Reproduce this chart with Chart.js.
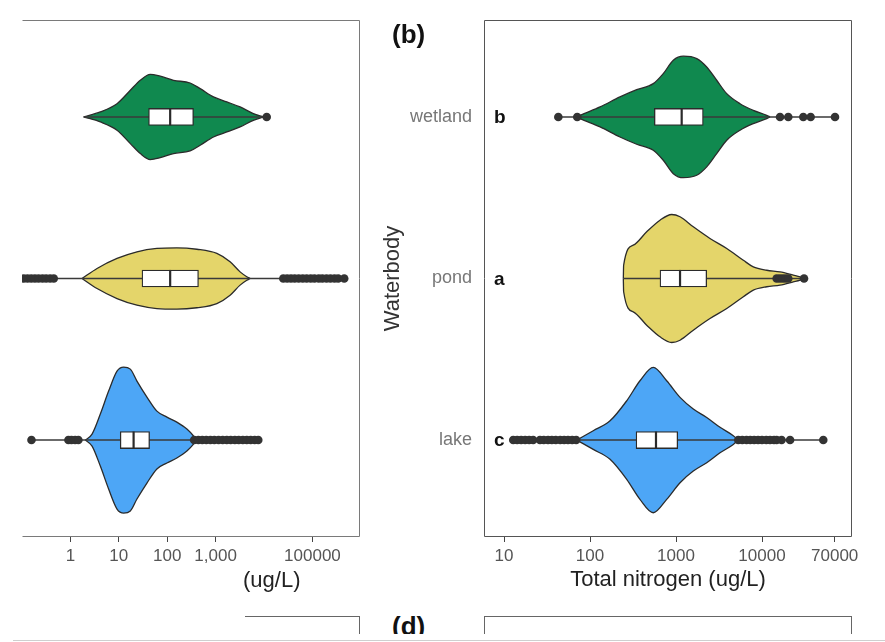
<!DOCTYPE html>
<html>
<head>
<meta charset="utf-8">
<script src="https://cdn.jsdelivr.net/npm/chart.js@4.4.1/dist/chart.umd.min.js"></script>
<style>
  body { margin: 0; background: #fff; font-family: "Liberation Sans", Arial, sans-serif; }
  #wrap { position: relative; width: 885px; height: 642px; overflow: hidden; background: #fff; }
  canvas { position: absolute; top: 0; }
  .tag { position: absolute; font-weight: bold; font-size: 26px; line-height: 26px; color: #111; }
  #tpTitle { position: absolute; left: 243px; top: 567px; font-size: 22px; line-height: 26px; color: #222; }
  .frame { position: absolute; top: 616px; height: 40px; border-top: 1px solid #666; }
  #frameC { left: 245px; width: 114px; border-right: 1px solid #666; }
  #frameD { left: 484px; width: 366px; border-left: 1px solid #666; border-right: 1px solid #666; }
  #cover { position: absolute; left: 0; top: 634px; width: 885px; height: 8px; background: #fff; }
  #rule { position: absolute; left: 13px; top: 640px; width: 872px; height: 1px; background: #cfcfcf; }
</style>
</head>
<body>
<div id="wrap">
  <canvas id="chartTP" width="370" height="600" style="left:0"></canvas>
  <canvas id="chartTN" width="515" height="600" style="left:370px"></canvas>
  <div class="tag" style="left:392px;top:21px">(b)</div>
  <div id="tpTitle">(ug/L)</div>
  <div class="frame" id="frameC"></div>
  <div class="frame" id="frameD"></div>
  <div class="tag" style="left:392px;top:613px">(d)</div>
  <div id="cover"></div>
  <div id="rule"></div>
</div>
<script>
// rows, bottom to top
const rows = ["lake", "pond", "wetland"];
const sigLetters = ["c", "a", "b"];
const fills = ["#4da6f6", "#e4d56a", "#10894f"];

// panel (a): total phosphorus, violin outline (value, half width)
const tpLakeX = [2.04, 2.8, 4.15, 6.16, 9.18, 12.6, 17.3, 23.7, 38.1, 61.2, 98.6, 158, 255, 349, 400];
const tpLakeW = [0, 0.037, 0.161, 0.303, 0.427, 0.452, 0.439, 0.365, 0.266, 0.179, 0.142, 0.111, 0.068, 0.025, 0];
const tpPondX = [1.74, 3.55, 9.18, 23.7, 61.2, 158, 410, 1060, 1990, 3200, 4400, 5140];
const tpPondW = [0, 0.062, 0.124, 0.165, 0.186, 0.19, 0.181, 0.155, 0.103, 0.041, 0.011, 0];
const tpWetX = [1.88, 4.15, 9.18, 17.3, 27.8, 44.6, 71.7, 135, 298, 479, 902, 1700, 3200, 6010, 9680];
const tpWetW = [0, 0.031, 0.082, 0.165, 0.227, 0.264, 0.252, 0.227, 0.21, 0.175, 0.124, 0.093, 0.062, 0.021, 0];
const tpQ1 = [10.7, 30.1, 41.2];
const tpMed = [20.2, 115, 115];
const tpQ3 = [43.2, 442, 349];
const tpMin = [0.157, 0.109, 1.88];
const tpMax = [7600, 453000, 11350];
const tpLakeOut = [0.157, 0.91, 1.05, 1.25, 1.46, 360, 440, 530, 640, 780, 940, 1150, 1400, 1700, 2050, 2500, 3000, 3650, 4400, 5300, 6400, 7600];
const tpPondOut = [0.109, 0.13, 0.155, 0.185, 0.22, 0.265, 0.315, 0.38, 0.453, 25000, 30000, 36000, 43000, 52000, 63000, 76000, 92000, 110000, 135000, 160000, 195000, 235000, 285000, 340000, 453000];
const tpWetOut = [11350];
const tpTicks = [1, 10, 100, 1000, 100000];
const tpTickLabels = ["1", "10", "100", "1,000", "100000"];

// panel (b): total nitrogen
const tnLakeX = [70, 109, 171, 267, 381, 544, 779, 1114, 1589, 2275, 3250, 4635, 5300];
const tnLakeW = [0, 0.058, 0.119, 0.243, 0.367, 0.45, 0.367, 0.264, 0.192, 0.14, 0.079, 0.027, 0];
const tnPondX = [244, 246, 318, 456, 651, 891, 1114, 1589, 2483, 3890, 6070, 7920, 11350, 16200, 23100, 27700, 30000];
const tnPondW = [0, 0.082, 0.206, 0.289, 0.361, 0.396, 0.382, 0.32, 0.248, 0.186, 0.113, 0.072, 0.051, 0.041, 0.021, 0.01, 0];
const tnWetX = [70, 76.5, 131, 223, 349, 544, 711, 930, 1217, 1741, 2275, 2972, 3890, 5550, 7920, 11350, 12400];
const tnWetW = [0, 0.01, 0.062, 0.124, 0.169, 0.206, 0.268, 0.351, 0.376, 0.361, 0.309, 0.227, 0.144, 0.082, 0.041, 0.01, 0];
const tnQ1 = [343, 651, 560];
const tnMed = [585, 1114, 1164];
const tnQ3 = [1047, 2275, 2075];
const tnMin = [12.8, 244, 42.8];
const tnMax = [51600, 30800, 70600];
const tnLakeOut = [12.8, 14.2, 15.8, 17.6, 19.6, 21.8, 26.2, 29, 32.5, 36, 40, 45, 50, 55.5, 62, 69, 5300, 5900, 6600, 7300, 8100, 9000, 10000, 11200, 12400, 13800, 14800, 16900, 21200, 51600];
const tnPondOut = [14800, 16000, 17300, 18700, 20200, 30800];
const tnWetOut = [42.8, 71, 16200, 20200, 30200, 36800, 70600];
const tnTicks = [10, 100, 1000, 10000, 70000];
const tnTickLabels = ["10", "100", "1000", "10000", "70000"];

const EDGE = "#2b2b2b";
const BOX_HALF = 0.053;

Chart.defaults.font.family = "'Liberation Sans', Arial, sans-serif";

const framePlugin = {
  id: "frame",
  afterDatasetsDraw(chart, args, opts) {
    const { ctx, chartArea: a } = chart;
    const l = Math.round(a.left) + 0.5, r = Math.round(a.right) - 0.5;
    const t = Math.round(a.top) + 0.5, b = Math.round(a.bottom) - 0.5;
    ctx.save();
    ctx.strokeStyle = opts.color || "#666";
    ctx.lineWidth = 1;
    ctx.beginPath();
    (opts.sides || []).forEach((s) => {
      if (s === "top") { ctx.moveTo(l, t); ctx.lineTo(r, t); }
      if (s === "right") { ctx.moveTo(r, t); ctx.lineTo(r, b); }
      if (s === "bottom") { ctx.moveTo(l, b); ctx.lineTo(r, b); }
      if (s === "left") { ctx.moveTo(l, t); ctx.lineTo(l, b); }
    });
    ctx.stroke();
    ctx.restore();
  },
};

const lettersPlugin = {
  id: "letters",
  afterDatasetsDraw(chart, args, opts) {
    if (!opts.labels) return;
    const { ctx, chartArea: a, scales } = chart;
    ctx.save();
    ctx.font = "bold 19px 'Liberation Sans', Arial, sans-serif";
    ctx.fillStyle = "#111";
    ctx.textAlign = "left";
    ctx.textBaseline = "middle";
    opts.labels.forEach((txt, i) => {
      ctx.fillText(txt, a.left + 10, scales.y.getPixelForValue(i + 1) + 1);
    });
    ctx.restore();
  },
};

function buildDatasets(xs, ws, q1, med, q3, mins, maxs, outs) {
  const sets = [];
  rows.forEach((name, i) => {
    const c = i + 1;
    // violin: upper edge, then lower edge filled up to it
    sets.push({
      type: "line", data: xs[i].map((x, k) => ({ x, y: c + ws[i][k] })),
      borderColor: EDGE, borderWidth: 1.3, pointRadius: 0, fill: false,
      cubicInterpolationMode: "monotone", order: 4,
    });
    sets.push({
      type: "line", data: xs[i].map((x, k) => ({ x, y: c - ws[i][k] })),
      borderColor: EDGE, borderWidth: 1.3, pointRadius: 0, fill: "-1",
      backgroundColor: fills[i], cubicInterpolationMode: "monotone", order: 5,
    });
    // whisker line
    sets.push({
      type: "line", data: [{ x: mins[i], y: c }, { x: maxs[i], y: c }],
      borderColor: "#3a3a3a", borderWidth: 1.6, pointRadius: 0, fill: false, order: 3,
    });
    // median
    sets.push({
      type: "line", data: [{ x: med[i], y: c - BOX_HALF }, { x: med[i], y: c + BOX_HALF }],
      borderColor: "#2b2b2b", borderWidth: 2.2, pointRadius: 0, fill: false, order: 1,
    });
    // outliers
    sets.push({
      type: "scatter", data: outs[i].map((x) => ({ x, y: c })),
      pointRadius: 4.3, backgroundColor: "#333", borderWidth: 0, order: 0,
    });
  });
  sets.push({
    type: "bar", indexAxis: "y",
    data: rows.map((n, i) => ({ x: [q1[i], q3[i]], y: i + 1 })),
    barThickness: 17, backgroundColor: "#fff", borderColor: "#2b2b2b",
    borderWidth: 1.3, borderSkipped: false, grouped: false, order: 2,
  });
  return sets;
}

function makeChart(id, cfg) {
  return new Chart(document.getElementById(id), {
    type: "scatter",
    data: { datasets: buildDatasets(cfg.xs, cfg.ws, cfg.q1, cfg.med, cfg.q3, cfg.mins, cfg.maxs, cfg.outs) },
    options: {
      responsive: false,
      animation: false,
      events: [],
      layout: { padding: cfg.padding },
      plugins: {
        legend: { display: false },
        tooltip: { enabled: false },
        frame: { sides: cfg.sides, color: cfg.frameColor },
        letters: { labels: cfg.letters },
      },
      scales: {
        x: {
          type: "logarithmic",
          min: cfg.xMin, max: cfg.xMax, bounds: "data",
          afterBuildTicks: (s) => { s.ticks = cfg.ticks.map((v) => ({ value: v })); },
          afterFit: (s) => { s.height = 63; },
          grid: { drawOnChartArea: false, drawTicks: true, tickLength: 5, color: "#444", offset: false },
          border: { display: false },
          ticks: {
            autoSkip: false, maxRotation: 0, padding: 4, color: "#555",
            font: { size: 17 },
            callback: (v, i) => cfg.tickLabels[i],
          },
          title: cfg.xTitle
            ? { display: true, text: cfg.xTitle, color: "#222", font: { size: 22 }, padding: { top: 0, bottom: 7 } }
            : { display: false },
        },
        y: {
          type: "linear", display: cfg.showY, min: 0.4, max: 3.6, offset: false,
          afterBuildTicks: (s) => { s.ticks = [1, 2, 3].map((v) => ({ value: v })); },
          afterFit: (s) => {
            if (cfg.showY) s.width = 114;
            s.paddingTop = 0;
            s.paddingBottom = 0;
          },
          grid: { display: true, drawOnChartArea: false, drawTicks: false, offset: false },
          border: { display: false },
          ticks: { padding: 12, color: "#777", font: { size: 18 }, callback: (v) => rows[v - 1] },
          title: { display: true, text: "Waterbody", color: "#333", font: { size: 22 }, padding: { top: 10, bottom: 0 } },
        },
      },
    },
    plugins: [framePlugin, lettersPlugin],
  });
}

makeChart("chartTP", {
  xs: [tpLakeX, tpPondX, tpWetX], ws: [tpLakeW, tpPondW, tpWetW],
  q1: tpQ1, med: tpMed, q3: tpQ3, mins: tpMin, maxs: tpMax,
  outs: [tpLakeOut, tpPondOut, tpWetOut],
  xMin: 0.1, xMax: 960000, ticks: tpTicks, tickLabels: tpTickLabels,
  padding: { left: 22, right: 10, top: 20, bottom: 0 },
  sides: ["top", "right", "bottom"], frameColor: "#7a7a7a",
  showY: false, letters: null, xTitle: null,
});

makeChart("chartTN", {
  xs: [tnLakeX, tnPondX, tnWetX], ws: [tnLakeW, tnPondW, tnWetW],
  q1: tnQ1, med: tnMed, q3: tnQ3, mins: tnMin, maxs: tnMax,
  outs: [tnLakeOut, tnPondOut, tnWetOut],
  xMin: 5.85, xMax: 111300, ticks: tnTicks, tickLabels: tnTickLabels,
  padding: { left: 0, right: 33, top: 20, bottom: 0 },
  sides: ["top", "right", "bottom", "left"], frameColor: "#555",
  showY: true, letters: sigLetters, xTitle: "Total nitrogen (ug/L)",
});
</script>
</body>
</html>
